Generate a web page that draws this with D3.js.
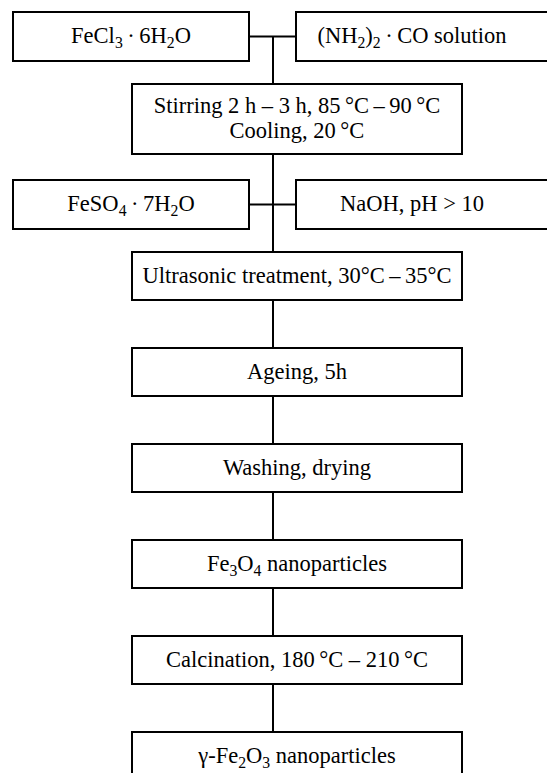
<!DOCTYPE html>
<html>
<head>
<meta charset="utf-8">
<script src="https://cdn.jsdelivr.net/npm/d3@7"></script>
<style>
body { margin: 0; background: #fff; }
</style>
</head>
<body>
<div id="chart"></div>
<script>
// "_n" marks a subscript digit
var leftInputs = ["FeCl_3\u2009·\u20096H_2O", "FeSO_4\u2009·\u20097H_2O"];
var rightInputs = ["(NH_2)_2\u2009·\u2009CO solution", "NaOH, pH > 10"];
var mixSteps = [["Stirring 2 h – 3 h, 85\u2009°C\u2009–\u200990\u2009°C", "Cooling, 20\u2009°C"]];
var steps = [
  "Ultrasonic treatment, 30°C\u2009–\u200935°C",
  "Ageing, 5h",
  "Washing, drying",
  "Fe_3O_4 nanoparticles",
  "Calcination, 180\u2009°C – 210\u2009°C",
  "γ-Fe_2O_3 nanoparticles"
];

(function () {
var width = 547, height = 773;
var svg = d3.select("#chart").append("svg")
  .attr("width", width).attr("height", height);

var fs = 22.5;
var sw = 2;
var lineX = 273;
var font = "'Liberation Serif', 'Times New Roman', Times, serif";

// input rows: top y of each pair of input boxes
var inputY = d3.scaleOrdinal().domain([0, 1]).range([12, 180]);
var inputH = 49;
var leftX = [13, 249], rightX = [296, 560];
var stepX = [132, 462];
// regular chain of steps
var stepY = d3.scaleLinear().domain([0, 1]).range([252, 348]);
var stepH = 48;
var mixY = 84, mixH = 70;

function richText(sel, str) {
  var parts = str.split(/_(\d)/);
  parts.forEach(function (p, i) {
    if (p === "") return;
    if (i % 2 === 1) {
      sel.append("tspan").attr("font-size", fs * 0.7).attr("dy", fs * 0.22).text(p);
    } else {
      var t = sel.append("tspan").text(p);
      if (i > 0) t.attr("dy", -fs * 0.22);
    }
  });
}

function box(x0, x1, y, h) {
  svg.append("rect")
    .attr("x", x0).attr("y", y)
    .attr("width", x1 - x0).attr("height", h)
    .attr("fill", "#fff").attr("stroke", "#000").attr("stroke-width", sw);
}

function label(cx, cy, str) {
  var t = svg.append("text")
    .attr("x", cx).attr("y", cy + fs * 0.31)
    .attr("text-anchor", "middle")
    .attr("font-family", font)
    .attr("fill", "#000")
    .attr("font-size", fs);
  richText(t, str);
}

var lines = svg.append("g").attr("stroke", "#000").attr("stroke-width", sw);

// vertical spine
lines.append("line")
  .attr("x1", lineX).attr("x2", lineX)
  .attr("y1", inputY(0) + inputH / 2)
  .attr("y2", stepY(steps.length - 1));

// horizontal joins between input boxes
leftInputs.forEach(function (d, i) {
  var y = inputY(i) + inputH / 2;
  lines.append("line")
    .attr("x1", leftX[1]).attr("x2", rightX[0])
    .attr("y1", y).attr("y2", y);
});

leftInputs.forEach(function (d, i) {
  box(leftX[0], leftX[1], inputY(i), inputH);
  label((leftX[0] + leftX[1]) / 2, inputY(i) + inputH / 2, d);
});
rightInputs.forEach(function (d, i) {
  box(rightX[0], rightX[1], inputY(i), inputH);
  label(412, inputY(i) + inputH / 2, d);
});

mixSteps.forEach(function (d) {
  box(stepX[0], stepX[1], mixY, mixH);
  var cx = (stepX[0] + stepX[1]) / 2;
  label(cx, mixY + mixH / 2 - 13, d[0]);
  label(cx, mixY + mixH / 2 + 12, d[1]);
});

steps.forEach(function (d, i) {
  box(stepX[0], stepX[1], stepY(i), stepH);
  label((stepX[0] + stepX[1]) / 2, stepY(i) + stepH / 2, d);
});
})();
</script>
</body>
</html>
